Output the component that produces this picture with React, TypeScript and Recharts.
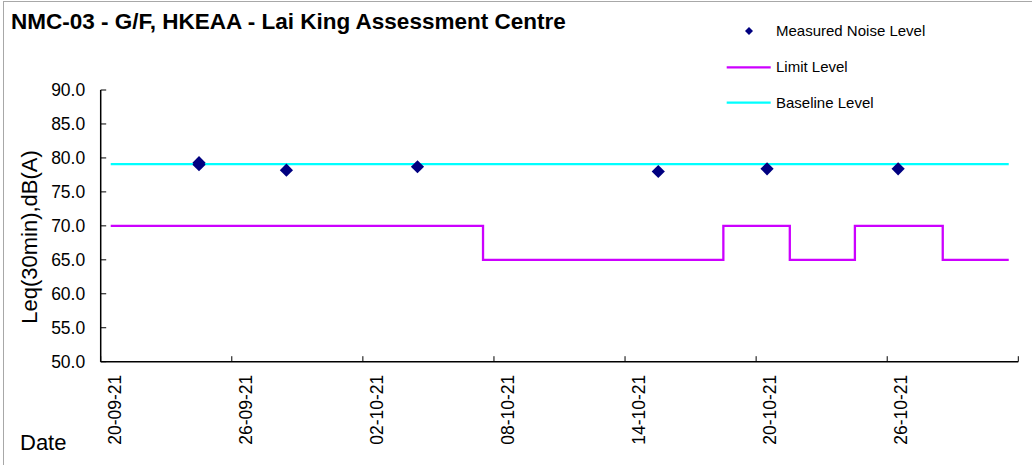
import React from 'react';
import { ComposedChart, Line, Scatter, XAxis, YAxis } from 'recharts';

const START = '2021-09-20T00:00:00Z';

const xTickDates = ['2021-09-20', '2021-09-26', '2021-10-02', '2021-10-08', '2021-10-14', '2021-10-20', '2021-10-26', '2021-11-01'];
const xTickLabels = ['20-09-21', '26-09-21', '02-10-21', '08-10-21', '14-10-21', '20-10-21', '26-10-21', ''];
const yTicks = [50, 55, 60, 65, 70, 75, 80, 85, 90];

const measuredTimes = ['2021-09-24T12:00', '2021-09-24T12:00', '2021-09-28T12:00', '2021-10-04T12:00', '2021-10-15T12:30', '2021-10-20T12:00', '2021-10-26T12:00'];
const measuredLevels = [79.3, 79.0, 78.2, 78.7, 78.0, 78.4, 78.4];

const limitTimes = ['2021-09-20T11:00', '2021-10-07T12:00', '2021-10-18T12:00', '2021-10-21T13:00', '2021-10-24T12:30', '2021-10-28T13:00', '2021-10-31T13:30'];
const limitLevels = [70, 65, 70, 65, 70, 65, 65];

const baselineTimes = ['2021-09-20T11:00', '2021-10-31T13:30'];
const baselineLevels = [79.1, 79.1];

const toDay = (s: string) => {
  const iso = s.includes('T') ? s + ':00Z' : s + 'T00:00:00Z';
  return (Date.parse(iso) - Date.parse(START)) / 86400000;
};

const xTicks = xTickDates.map(toDay);
const measuredData = measuredTimes.map((t, i) => ({ x: toDay(t), y: measuredLevels[i] }));
const limitData = limitTimes.map((t, i) => ({ x: toDay(t), y: limitLevels[i] }));
const baselineData = baselineTimes.map((t, i) => ({ x: toDay(t), y: baselineLevels[i] }));

const FONT = '"Liberation Sans", Arial, sans-serif';
const NAVY = '#000080';
const MAGENTA = '#CC00FF';
const CYAN = '#00FFFF';

const XTick = (props: any) => {
  const { x, y, payload } = props;
  const idx = xTicks.findIndex((v) => Math.abs(v - payload.value) < 1e-6);
  const label = idx >= 0 ? xTickLabels[idx] : '';
  const px = x + 20;
  const py = y + 13;
  return (
    <g>
      <line x1={x} x2={x} y1={y} y2={y - 5.5} stroke="#000" strokeWidth={1} />
      <text
        x={px}
        y={py}
        transform={`rotate(-90, ${px}, ${py})`}
        textAnchor="end"
        fontFamily={FONT}
        fontSize={17.5}
        fill="#000"
      >
        {label}
      </text>
    </g>
  );
};

const YTick = (props: any) => {
  const { x, y, payload } = props;
  return (
    <g>
      <line x1={x} x2={x + 5.5} y1={y} y2={y} stroke="#000" strokeWidth={1} />
      <text x={x - 15.5} y={y} dy="0.355em" textAnchor="end" fontFamily={FONT} fontSize={17.5} fill="#000">
        {Number(payload.value).toFixed(1)}
      </text>
    </g>
  );
};

const Diamond = (props: any) => {
  const { cx, cy } = props;
  const r = 6.6;
  return <path d={`M${cx},${cy - r}L${cx + r},${cy}L${cx},${cy + r}L${cx - r},${cy}Z`} fill={NAVY} />;
};

export default function App() {
  return (
    <div style={{ position: 'absolute', left: 0, top: 0, width: 1032, height: 465, background: '#fff', fontFamily: FONT }}>
      <div
        style={{
          position: 'absolute',
          left: 3,
          top: 1,
          width: 1029,
          height: 464,
          borderLeft: '1px solid #a8a8a8',
          borderTop: '1px solid #a8a8a8',
          boxSizing: 'border-box',
        }}
      />
      <ComposedChart
        width={1032}
        height={465}
        margin={{ top: 90, right: 13.7, left: 0, bottom: 0 }}
        style={{ position: 'absolute', left: 0, top: 0 }}
      >
        <XAxis
          type="number"
          dataKey="x"
          domain={[0, 42]}
          ticks={xTicks}
          interval={0}
          allowDataOverflow
          height={103.3}
          tickSize={0}
          tickMargin={0}
          tick={<XTick />}
          axisLine={{ stroke: '#000', strokeWidth: 1.5 }}
          tickLine={false}
        />
        <YAxis
          type="number"
          dataKey="y"
          domain={[50, 90]}
          ticks={yTicks}
          interval={0}
          allowDataOverflow
          width={100.7}
          tickSize={0}
          tickMargin={0}
          tick={<YTick />}
          axisLine={{ stroke: '#000', strokeWidth: 1.5 }}
          tickLine={false}
        />
        <Line
          data={limitData}
          dataKey="y"
          type="stepAfter"
          stroke={MAGENTA}
          strokeWidth={2.3}
          dot={false}
          activeDot={false}
          isAnimationActive={false}
        />
        <Line
          data={baselineData}
          dataKey="y"
          type="linear"
          stroke={CYAN}
          strokeWidth={2.3}
          dot={false}
          activeDot={false}
          isAnimationActive={false}
        />
        <Scatter data={measuredData} dataKey="y" fill={NAVY} shape={<Diamond />} isAnimationActive={false} />
      </ComposedChart>
      <svg width={1032} height={465} style={{ position: 'absolute', left: 0, top: 0, pointerEvents: 'none' }}>
        <text x={11} y={29} fontFamily={FONT} fontSize={22.5} fontWeight="bold" fill="#000">
          NMC-03 - G/F, HKEAA - Lai King Assessment Centre
        </text>
        <text
          x={37}
          y={237}
          transform="rotate(-90, 37, 237)"
          textAnchor="middle"
          fontFamily={FONT}
          fontSize={22}
          fill="#000"
        >
          Leq(30min),dB(A)
        </text>
        <text x={20} y={450} fontFamily={FONT} fontSize={22} fill="#000">
          Date
        </text>
        <path d="M749,27L753,31L749,35L745,31Z" fill={NAVY} />
        <text x={776} y={36} fontFamily={FONT} fontSize={15} fill="#000">
          Measured Noise Level
        </text>
        <line x1={726.7} x2={770.7} y1={67.3} y2={67.3} stroke={MAGENTA} strokeWidth={2.3} />
        <text x={776} y={72.3} fontFamily={FONT} fontSize={15} fill="#000">
          Limit Level
        </text>
        <line x1={726.7} x2={770.7} y1={102.7} y2={102.7} stroke={CYAN} strokeWidth={2.3} />
        <text x={776} y={107.7} fontFamily={FONT} fontSize={15} fill="#000">
          Baseline Level
        </text>
      </svg>
    </div>
  );
}
